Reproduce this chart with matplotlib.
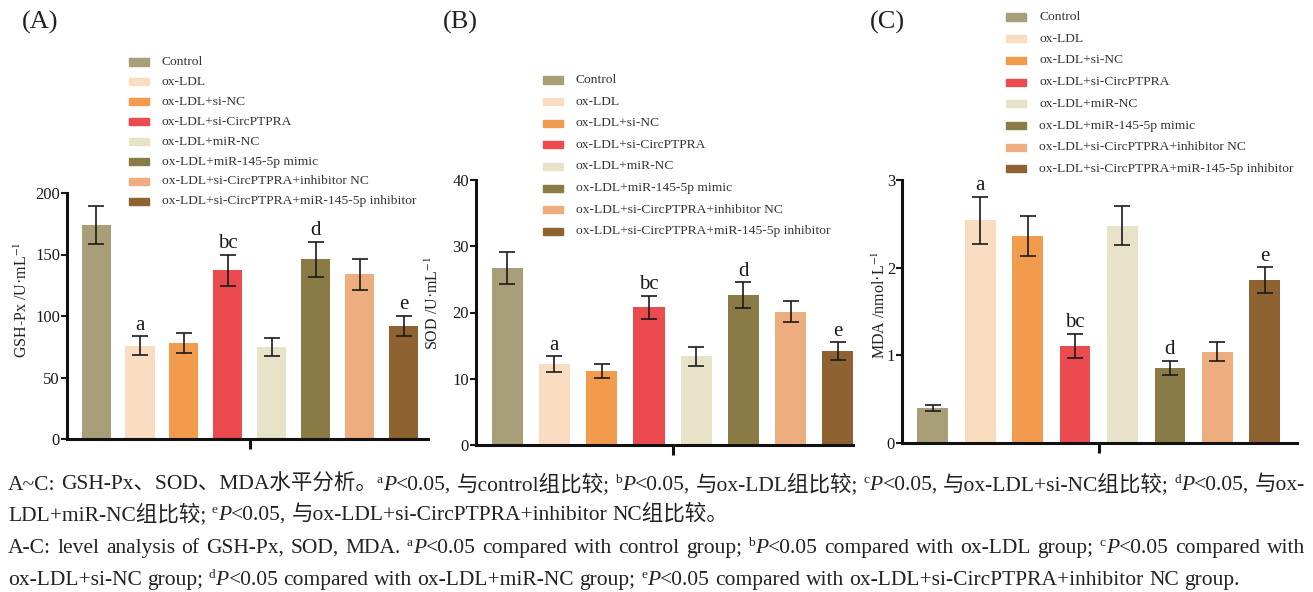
import re
import numpy as np
import matplotlib
matplotlib.use("Agg")
import matplotlib.pyplot as plt
from matplotlib.patches import Rectangle

plt.rcParams["font.family"] = ["Liberation Serif", "Noto Sans CJK SC"]
plt.rcParams["mathtext.fontset"] = "stix"

groups = ["Control", "ox-LDL", "ox-LDL+si-NC", "ox-LDL+si-CircPTPRA",
          "ox-LDL+miR-NC", "ox-LDL+miR-145-5p mimic",
          "ox-LDL+si-CircPTPRA+inhibitor NC",
          "ox-LDL+si-CircPTPRA+miR-145-5p inhibitor"]
colors = ["#A89F78", "#FADDC0", "#F39B4D", "#EB4A4E",
          "#E7E2C8", "#8A7A45", "#EEAD7F", "#8E6231"]
marks = ["", "a", "", "bc", "", "d", "", "e"]

gsh = [174, 76, 78, 137, 75, 146, 134, 92]
gsh_err = [15.5, 7.7, 7.8, 12.8, 7.5, 14.5, 12.5, 8.4]
sod = [26.7, 12.2, 11.2, 20.8, 13.4, 22.6, 20.1, 14.2]
sod_err = [2.4, 1.25, 1.1, 1.75, 1.4, 1.95, 1.6, 1.35]
mda = [0.40, 2.54, 2.36, 1.11, 2.48, 0.86, 1.04, 1.86]
mda_err = [0.03, 0.27, 0.23, 0.135, 0.22, 0.08, 0.11, 0.145]

W, H = 1313, 592
fig = plt.figure(figsize=(W / 100, H / 100), dpi=100)

panels = [
    # (label, values, errors, ylabel, ymax, yticks, axes rect px, xlim, bar width,
    #  legend (x, first row y, row step), panel label pos, ylabel x)
    ("(A)", gsh, gsh_err, r"GSH-Px /U·mL$^{-1}$", 200, [0, 50, 100, 150, 200],
     [67, 153, 361, 246], (-0.66, 7.55), 0.66, (129, 62, 19.9), (22, 22), 22),
    ("(B)", sod, sod_err, r"SOD /U·mL$^{-1}$", 40, [0, 10, 20, 30, 40],
     [476, 147, 377, 265], (-0.66, 7.32), 0.66, (543, 80, 21.6), (443, 22), 433),
    ("(C)", mda, mda_err, r"MDA /nmol·L$^{-1}$", 3, [0, 1, 2, 3],
     [902, 149, 395, 263], (-0.65, 7.68), 0.65, (1006, 17, 21.7), (870, 22), 880),
]

for (lab, vals, errs, ylab, ymax, yt, rect, xl, bw, leg, labpos, ylx) in panels:
    l, b, w, h = rect
    ax = fig.add_axes([l / W, b / H, w / W, h / H])
    x = np.arange(len(vals))
    ax.bar(x, vals, width=bw, color=colors, zorder=2)
    ax.errorbar(x, vals, yerr=errs, fmt="none", ecolor="#1a1a1a",
                elinewidth=1.2, capsize=6, capthick=1.2, zorder=3)
    for xi, v, e, m in zip(x, vals, errs, marks):
        if m:
            ax.annotate(m, (xi, v + e), xytext=(0, 1), textcoords="offset points",
                        ha="center", va="bottom", fontsize=15, color="#1a1a1a")
    ax.set_xlim(*xl)
    ax.set_ylim(0, ymax)
    ax.set_yticks(yt)
    ax.set_xticks([3.5])
    ax.set_xticklabels([])
    ax.tick_params(axis="y", direction="out", length=4, width=1.5,
                   labelsize=12, pad=1, colors="#1a1a1a")
    ax.tick_params(axis="x", direction="out", length=7, width=2.2, colors="#111111")
    for s in ["top", "right"]:
        ax.spines[s].set_visible(False)
    for s in ["left", "bottom"]:
        ax.spines[s].set_linewidth(2.2)
        ax.spines[s].set_color("#111111")
    ax.set_facecolor("none")
    fig.text(ylx / W, 1 - (b + h / 2 + 24) / H, ylab, rotation=90,
             ha="center", va="center", fontsize=11.5, color="#222222")
    fig.text(labpos[0] / W, 1 - labpos[1] / H, lab, ha="left", va="center",
             fontsize=19, color="#222222")
    # legend drawn by hand so rows sit where the reference has them
    lx, ly0, dy = leg
    for i, (g, c) in enumerate(zip(groups, colors)):
        yy = ly0 + i * dy
        fig.add_artist(Rectangle((lx / W, 1 - (yy + 3.5) / H), 20 / W, 7 / H,
                                 transform=fig.transFigure, color=c))
        fig.text((lx + 33) / W, 1 - yy / H, g, ha="left", va="center",
                 fontsize=9.7, color="#333333")

# caption
renderer = fig.canvas.get_renderer()
CAP = 15.5


def text_w(s, size, style):
    t = fig.text(0, 0, s, fontsize=size, style=style)
    wpx = t.get_window_extent(renderer).width
    t.remove()
    return wpx


def tokens(parts):
    out = []
    for s, st in parts:
        if st == "s":
            out.append((s, "s"))
        else:
            for tok in re.split(r"( )", s):
                if tok:
                    out.append((tok, st))
    return out


def draw_line(y, parts, justify=False, x0=8, x1=1305):
    toks = tokens(parts)
    sp = text_w("a a", CAP, "normal") - text_w("aa", CAP, "normal")
    widths = []
    for s, st in toks:
        if s == " ":
            widths.append(sp)
        elif st == "s":
            widths.append(text_w(s, CAP * 0.62, "normal"))
        else:
            widths.append(text_w(s, CAP, "italic" if st == "i" else "normal"))
    extra = 0
    nsp = sum(1 for s, _ in toks if s == " ")
    if justify and nsp:
        extra = (x1 - x0 - sum(widths)) / nsp
    x = x0
    for (s, st), wpx in zip(toks, widths):
        if s == " ":
            x += wpx + extra
            continue
        if st == "s":
            fig.text(x / W, 1 - (y - 7) / H, s, fontsize=CAP * 0.62,
                     va="baseline", ha="left", color="#222222")
        else:
            fig.text(x / W, 1 - y / H, s, fontsize=CAP, va="baseline", ha="left",
                     style="italic" if st == "i" else "normal", color="#222222")
        x += wpx


n = "n"
draw_line(490, [("A~C: GSH-Px、SOD、MDA水平分析。", n), ("a", "s"), ("P", "i"),
                ("<0.05, 与control组比较; ", n), ("b", "s"), ("P", "i"),
                ("<0.05, 与ox-LDL组比较; ", n), ("c", "s"), ("P", "i"),
                ("<0.05, 与ox-LDL+si-NC组比较; ", n), ("d", "s"), ("P", "i"),
                ("<0.05, 与ox-", n)], justify=True)
draw_line(520, [("LDL+miR-NC组比较; ", n), ("e", "s"), ("P", "i"),
                ("<0.05, 与ox-LDL+si-CircPTPRA+inhibitor NC组比较。", n)])
draw_line(553, [("A-C: level analysis of GSH-Px, SOD, MDA. ", n), ("a", "s"), ("P", "i"),
                ("<0.05 compared with control group; ", n), ("b", "s"), ("P", "i"),
                ("<0.05 compared with ox-LDL group; ", n), ("c", "s"), ("P", "i"),
                ("<0.05 compared with", n)], justify=True)
draw_line(585, [("ox-LDL+si-NC group; ", n), ("d", "s"), ("P", "i"),
                ("<0.05 compared with ox-LDL+miR-NC group; ", n), ("e", "s"), ("P", "i"),
                ("<0.05 compared with ox-LDL+si-CircPTPRA+inhibitor NC group.", n)])

fig.savefig("out.png", dpi=100, facecolor="white")
